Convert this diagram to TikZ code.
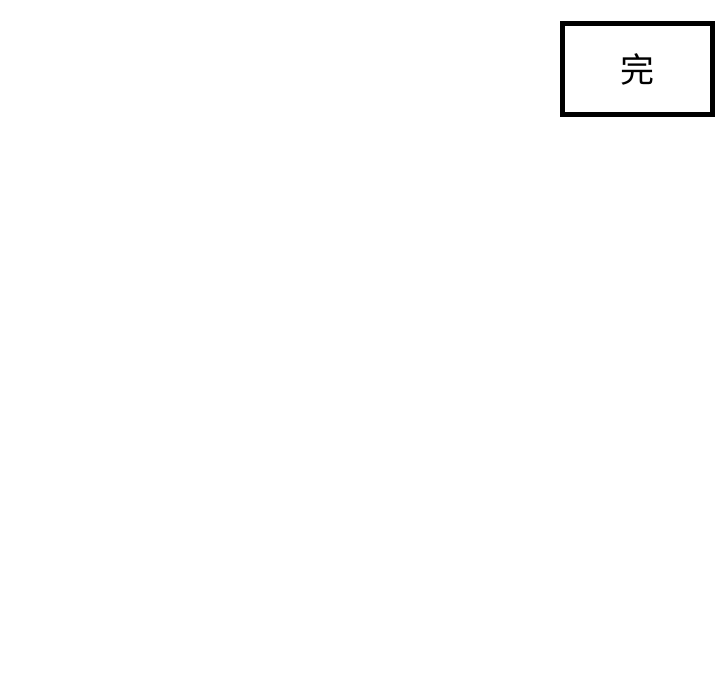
\documentclass[tikz,border=0pt]{standalone}
\usepackage{fontspec}
\newfontfamily\cjk{Noto Sans CJK SC}
\usepackage{tikz}

\begin{document}
\begin{tikzpicture}[x=1pt, y=1pt, endbox/.style={draw, line width=5pt, minimum width=150pt, minimum height=91pt, inner sep=0pt, font=\cjk\fontsize{34}{34}\selectfont}]
\useasboundingbox (0,0) rectangle (720,-700);

\node[endbox] (end) at (637.5,-69) {完};
\end{tikzpicture}
\end{document}
